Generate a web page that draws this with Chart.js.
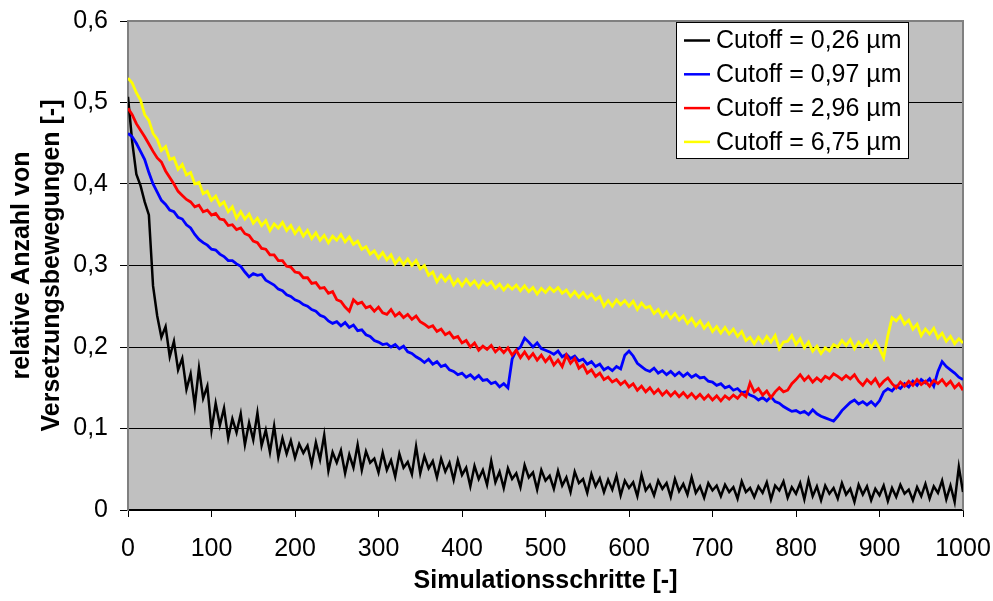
<!DOCTYPE html>
<html><head><meta charset="utf-8">
<script src="https://cdn.jsdelivr.net/npm/chart.js@4"></script>
<style>html,body{margin:0;padding:0;background:#fff}#wrap{width:993px;height:601px;position:relative}</style>
</head><body><div id="wrap"><canvas id="c" width="993" height="601"></canvas></div>
<script>
const seriesLabels = ['Cutoff = 0,26 µm','Cutoff = 0,97 µm','Cutoff = 2,96 µm','Cutoff = 6,75 µm'];
const seriesColors = ['#000000','#0000FF','#FF0000','#FFFF00'];
const xTickLabels = ['0','100','200','300','400','500','600','700','800','900','1000'];
const yTickLabels = ['0','0,1','0,2','0,3','0,4','0,5','0,6'];
const xTitle = 'Simulationsschritte [-]';
const yTitle = ['relative Anzahl von','Versetzungsbewegungen [-]'];

// simulation steps 0..1000, every 5th step
const steps = [];
for (let s = 0; s <= 1000; s += 5) steps.push(s);

const cutoff026 = [
0.507,0.452,0.412,0.398,0.378,0.362,0.275,0.238,0.212,0.225,
0.188,0.207,0.172,0.186,0.148,0.167,0.128,0.174,0.137,0.152,
0.098,0.131,0.104,0.125,0.088,0.112,0.095,0.118,0.080,0.107,
0.086,0.119,0.079,0.098,0.071,0.103,0.065,0.088,0.069,0.085,
0.064,0.081,0.070,0.079,0.056,0.083,0.062,0.092,0.048,0.071,
0.058,0.073,0.045,0.068,0.052,0.080,0.049,0.072,0.058,0.063,
0.046,0.070,0.049,0.061,0.041,0.069,0.052,0.059,0.044,0.078,
0.045,0.066,0.051,0.060,0.040,0.063,0.047,0.058,0.037,0.061,
0.043,0.052,0.029,0.054,0.038,0.049,0.031,0.060,0.034,0.047,
0.027,0.051,0.038,0.045,0.028,0.055,0.040,0.046,0.025,0.049,
0.036,0.042,0.026,0.048,0.030,0.040,0.022,0.047,0.033,0.038,
0.021,0.044,0.029,0.039,0.022,0.037,0.025,0.042,0.018,0.036,
0.027,0.034,0.017,0.043,0.024,0.031,0.018,0.036,0.026,0.033,
0.016,0.038,0.023,0.032,0.019,0.040,0.021,0.029,0.015,0.033,
0.024,0.030,0.017,0.031,0.022,0.028,0.014,0.035,0.022,0.027,
0.016,0.029,0.021,0.034,0.013,0.030,0.024,0.035,0.015,0.028,
0.020,0.033,0.013,0.037,0.017,0.029,0.012,0.030,0.020,0.027,
0.014,0.033,0.019,0.026,0.010,0.031,0.019,0.029,0.012,0.026,
0.018,0.030,0.011,0.027,0.016,0.031,0.020,0.025,0.012,0.028,
0.017,0.032,0.014,0.029,0.021,0.036,0.013,0.030,0.010,0.053,
0.022];

const cutoff097 = [
0.462,0.458,0.450,0.440,0.430,0.414,0.400,0.390,0.380,0.375,
0.368,0.366,0.359,0.357,0.350,0.346,0.338,0.332,0.328,0.325,
0.320,0.319,0.314,0.311,0.306,0.306,0.302,0.299,0.292,0.286,
0.290,0.288,0.289,0.282,0.279,0.276,0.271,0.269,0.264,0.262,
0.258,0.256,0.252,0.250,0.246,0.244,0.239,0.237,0.232,0.229,
0.231,0.226,0.230,0.224,0.227,0.220,0.221,0.215,0.213,0.208,
0.206,0.203,0.204,0.200,0.203,0.198,0.201,0.194,0.192,0.188,
0.185,0.181,0.185,0.179,0.182,0.176,0.178,0.172,0.170,0.166,
0.168,0.163,0.166,0.161,0.165,0.159,0.160,0.155,0.157,0.151,
0.155,0.150,0.185,0.196,0.200,0.211,0.206,0.200,0.205,0.198,
0.196,0.194,0.191,0.195,0.188,0.191,0.186,0.189,0.183,0.185,
0.179,0.182,0.176,0.179,0.172,0.175,0.171,0.176,0.173,0.190,
0.195,0.189,0.180,0.176,0.172,0.170,0.174,0.168,0.171,0.166,
0.170,0.165,0.169,0.164,0.168,0.163,0.166,0.162,0.163,0.158,
0.157,0.153,0.155,0.150,0.152,0.147,0.149,0.144,0.145,0.141,
0.139,0.135,0.138,0.134,0.139,0.133,0.131,0.127,0.124,0.121,
0.122,0.119,0.121,0.117,0.123,0.118,0.115,0.113,0.111,0.109,
0.115,0.122,0.127,0.132,0.135,0.130,0.133,0.129,0.133,0.128,
0.134,0.145,0.149,0.146,0.152,0.149,0.155,0.151,0.158,0.153,
0.160,0.156,0.161,0.152,0.170,0.182,0.176,0.172,0.168,0.163,
0.160];

const cutoff296 = [
0.493,0.485,0.474,0.466,0.458,0.449,0.440,0.432,0.427,0.416,
0.408,0.400,0.391,0.386,0.381,0.378,0.372,0.374,0.366,0.368,
0.362,0.364,0.357,0.356,0.349,0.350,0.344,0.346,0.339,0.337,
0.330,0.328,0.321,0.320,0.313,0.313,0.306,0.306,0.299,0.298,
0.292,0.291,0.285,0.285,0.278,0.279,0.272,0.273,0.266,0.268,
0.258,0.256,0.249,0.244,0.258,0.253,0.255,0.248,0.250,0.244,
0.249,0.242,0.240,0.246,0.238,0.242,0.236,0.240,0.234,0.238,
0.231,0.228,0.224,0.226,0.219,0.222,0.215,0.218,0.211,0.213,
0.205,0.208,0.200,0.205,0.196,0.201,0.197,0.202,0.194,0.199,
0.193,0.199,0.190,0.196,0.187,0.194,0.186,0.192,0.184,0.190,
0.182,0.188,0.178,0.184,0.176,0.190,0.180,0.186,0.174,0.178,
0.168,0.172,0.164,0.168,0.160,0.163,0.157,0.160,0.154,0.158,
0.151,0.155,0.147,0.152,0.145,0.150,0.143,0.148,0.141,0.146,
0.140,0.145,0.139,0.144,0.138,0.143,0.137,0.142,0.136,0.141,
0.135,0.140,0.134,0.140,0.136,0.141,0.137,0.143,0.139,0.156,
0.145,0.149,0.141,0.146,0.138,0.145,0.150,0.145,0.147,0.155,
0.160,0.166,0.159,0.164,0.157,0.162,0.158,0.164,0.161,0.167,
0.164,0.160,0.165,0.161,0.166,0.158,0.153,0.160,0.155,0.161,
0.152,0.158,0.162,0.155,0.150,0.157,0.152,0.158,0.153,0.160,
0.154,0.158,0.152,0.159,0.155,0.160,0.153,0.158,0.150,0.155,
0.147];

const cutoff675 = [
0.530,0.524,0.512,0.503,0.485,0.478,0.462,0.455,0.441,0.446,
0.430,0.432,0.418,0.424,0.411,0.414,0.400,0.402,0.388,0.391,
0.380,0.385,0.374,0.378,0.366,0.372,0.358,0.366,0.357,0.363,
0.352,0.358,0.349,0.355,0.343,0.351,0.346,0.353,0.343,0.349,
0.339,0.346,0.336,0.343,0.333,0.340,0.331,0.337,0.328,0.336,
0.331,0.338,0.329,0.335,0.326,0.330,0.320,0.323,0.314,0.318,
0.309,0.316,0.307,0.313,0.302,0.309,0.301,0.308,0.300,0.306,
0.296,0.300,0.288,0.292,0.280,0.288,0.281,0.287,0.276,0.283,
0.275,0.283,0.276,0.281,0.273,0.281,0.276,0.280,0.272,0.277,
0.270,0.276,0.271,0.276,0.269,0.275,0.268,0.273,0.265,0.272,
0.267,0.273,0.268,0.273,0.266,0.270,0.262,0.268,0.261,0.267,
0.260,0.265,0.258,0.262,0.250,0.257,0.250,0.258,0.252,0.257,
0.250,0.256,0.246,0.254,0.248,0.250,0.241,0.246,0.237,0.243,
0.235,0.241,0.233,0.238,0.229,0.235,0.226,0.232,0.223,0.229,
0.219,0.225,0.217,0.224,0.216,0.222,0.213,0.219,0.208,0.212,
0.204,0.212,0.205,0.213,0.206,0.214,0.198,0.206,0.207,0.214,
0.203,0.210,0.199,0.206,0.195,0.201,0.192,0.199,0.195,0.203,
0.200,0.208,0.202,0.209,0.198,0.206,0.200,0.208,0.199,0.207,
0.198,0.187,0.214,0.236,0.232,0.238,0.228,0.233,0.222,0.228,
0.214,0.222,0.216,0.223,0.211,0.217,0.207,0.213,0.204,0.210,
0.205];

const seriesValues = [cutoff026, cutoff097, cutoff296, cutoff675];
const drawOrder = [4, 3, 2, 1];

const FONT = 'Arial, "Liberation Sans", Helvetica, sans-serif';
const FS = 25;

const plotFrame = {
  id: 'plotFrame',
  beforeDraw(chart) {
    const {ctx, chartArea: a} = chart;
    ctx.save();
    ctx.fillStyle = '#C0C0C0';
    ctx.fillRect(a.left, a.top, a.right - a.left, a.bottom - a.top);
    ctx.restore();
  },
  beforeDatasetsDraw(chart) {
    const {ctx, chartArea: a} = chart;
    ctx.save();
    ctx.strokeStyle = '#808080';
    ctx.lineWidth = 2;
    ctx.beginPath();
    ctx.moveTo(a.left, a.top);
    ctx.lineTo(a.right, a.top);
    ctx.lineTo(a.right, a.bottom);
    ctx.stroke();
    ctx.restore();
  }
};

const boxLegend = {
  id: 'boxLegend',
  afterDraw(chart) {
    const ctx = chart.ctx;
    const x0 = 676, y0 = 22, w = 232, h = 136;
    ctx.save();
    ctx.fillStyle = '#FFFFFF';
    ctx.fillRect(x0, y0, w, h);
    ctx.strokeStyle = '#000000';
    ctx.lineWidth = 1;
    ctx.strokeRect(x0 + 0.5, y0 + 0.5, w, h);
    ctx.font = FS + 'px ' + FONT;
    ctx.textBaseline = 'middle';
    ctx.textAlign = 'left';
    seriesLabels.forEach((lab, i) => {
      const cy = y0 + 18.5 + i * 33.8;
      ctx.strokeStyle = seriesColors[i];
      ctx.lineWidth = 2.5;
      ctx.beginPath();
      ctx.moveTo(684, cy);
      ctx.lineTo(710, cy);
      ctx.stroke();
      ctx.fillStyle = '#000000';
      ctx.fillText(lab, 716, cy + 1);
    });
    ctx.restore();
  }
};

new Chart(document.getElementById('c'), {
  type: 'line',
  data: {
    datasets: seriesValues.map((vals, i) => ({
      label: seriesLabels[i],
      data: vals.map((v, k) => ({x: steps[k], y: v})),
      borderColor: seriesColors[i],
      backgroundColor: seriesColors[i],
      borderWidth: i === 0 ? 2.5 : 2.8,
      pointRadius: 0,
      tension: 0,
      fill: false,
      order: drawOrder[i]
    }))
  },
  options: {
    responsive: false,
    animation: false,
    devicePixelRatio: 1,
    layout: {padding: {left: 0, right: 30, top: 21, bottom: 0}},
    plugins: {legend: {display: false}, tooltip: {enabled: false}},
    scales: {
      x: {
        type: 'linear', min: 0, max: 1000,
        afterFit(s) { s.height = 91; s.paddingLeft = 0; s.paddingRight = 0; },
        afterBuildTicks(s) { s.ticks = xTickLabels.map(t => ({value: Number(t)})); },
        ticks: {
          callback: (v, i) => xTickLabels[i],
          font: {family: FONT, size: FS}, color: '#000', padding: 17, maxRotation: 0, autoSkip: false
        },
        grid: {drawOnChartArea: false, drawTicks: true, tickLength: 7, color: '#000', lineWidth: 1},
        border: {color: '#000', width: 1.5},
        title: {display: true, text: xTitle, color: '#000',
          font: {family: FONT, size: FS, weight: 'bold'}, padding: {top: 0, bottom: 5}}
      },
      y: {
        type: 'linear', min: 0, max: 0.6,
        afterFit(s) { s.width = 128; s.paddingTop = 0; s.paddingBottom = 0; },
        afterBuildTicks(s) { s.ticks = yTickLabels.map((t, i) => ({value: i / 10})); },
        ticks: {
          callback: (v, i) => yTickLabels[i],
          font: {family: FONT, size: FS}, color: '#000', padding: 12
        },
        grid: {drawTicks: true, tickLength: 8, color: '#000', lineWidth: 1},
        border: {color: '#808080', width: 2},
        title: {display: true, text: yTitle, color: '#000',
          font: {family: FONT, size: FS, weight: 'bold', lineHeight: 1.2}, padding: {top: 7, bottom: 0}}
      }
    }
  },
  plugins: [plotFrame, boxLegend]
});
</script></body></html>
